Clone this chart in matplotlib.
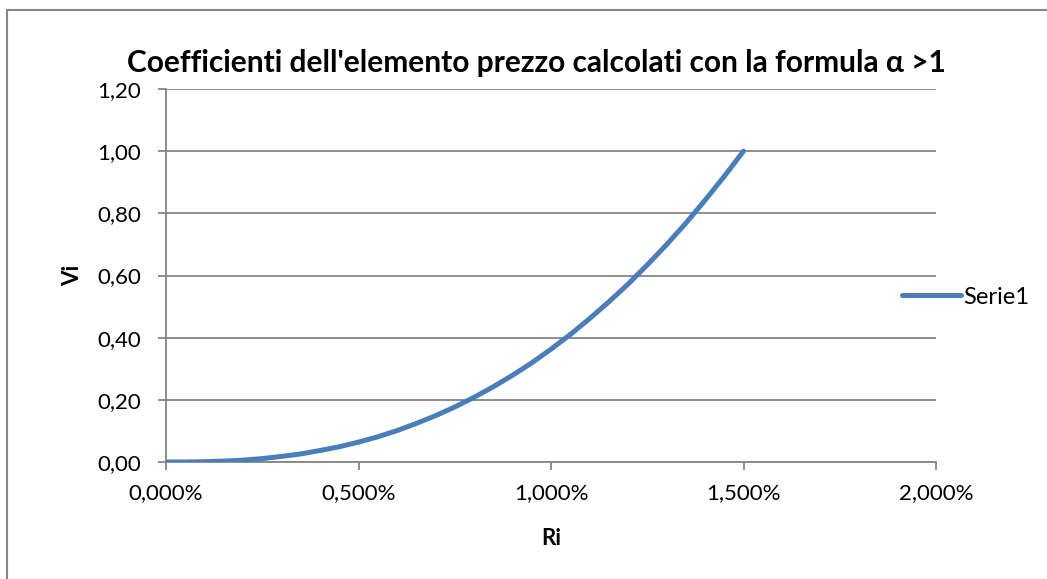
import matplotlib
matplotlib.use("Agg")
import matplotlib.pyplot as plt
from matplotlib.patches import Rectangle
from matplotlib.ticker import FuncFormatter

# dati (Ri in %, Vi)
ri = [0.00, 0.05, 0.10, 0.15, 0.20, 0.25, 0.30, 0.35, 0.40, 0.45, 0.50,
      0.55, 0.60, 0.65, 0.70, 0.75, 0.80, 0.85, 0.90, 0.95, 1.00,
      1.05, 1.10, 1.15, 1.20, 1.25, 1.30, 1.35, 1.40, 1.45, 1.50]
vi = [0.000, 0.000, 0.001, 0.003, 0.006, 0.011, 0.018, 0.026, 0.037, 0.049, 0.064,
      0.081, 0.101, 0.124, 0.149, 0.177, 0.208, 0.242, 0.279, 0.319, 0.363,
      0.410, 0.461, 0.515, 0.572, 0.634, 0.699, 0.768, 0.842, 0.919, 1.000]
x_ticks = [0.0, 0.5, 1.0, 1.5, 2.0]
y_ticks = [0.0, 0.2, 0.4, 0.6, 0.8, 1.0, 1.2]

title = "Coefficienti dell'elemento prezzo calcolati con la formula \u03b1 >1"
grid_col = "#868686"
line_col = "#4A7EBB"

plt.rcParams['font.family'] = ['Lato', 'DejaVu Sans']

fig = plt.figure(figsize=(10.47, 5.79), dpi=100)
ax = fig.add_axes([166 / 1047, 1 - 462 / 579, (936 - 166) / 1047, (462 - 89) / 579])

ax.plot(ri, vi, color=line_col, lw=3.6, solid_capstyle='round', label="Serie1", zorder=3)

ax.set_xlim(0, 2.0)
ax.set_ylim(0, 1.2)
ax.set_xticks(x_ticks)
ax.set_yticks(y_ticks)
ax.xaxis.set_major_formatter(FuncFormatter(lambda v, p: ("%.3f%%" % v).replace(".", ",")))
ax.yaxis.set_major_formatter(FuncFormatter(lambda v, p: ("%.2f" % v).replace(".", ",")))
ax.grid(axis='y', color=grid_col, lw=1.3)
ax.set_axisbelow(True)
for s in ['top', 'right']:
    ax.spines[s].set_visible(False)
for s in ['left', 'bottom']:
    ax.spines[s].set_color(grid_col)
    ax.spines[s].set_linewidth(1.3)
ax.tick_params(direction='out', length=6, width=1.3, color=grid_col, labelsize=16, pad=9)
ax.tick_params(axis='y', pad=12)

ax.set_xlabel("Ri", fontsize=16, fontweight='bold', labelpad=18)
ax.set_ylabel("Vi", fontsize=16, fontweight='bold', labelpad=10)
fig.text(536 / 1047, 1 - 63 / 579, title, ha='center', va='center', fontsize=21.5, fontweight='bold')

fig.legend(loc='center left', bbox_to_anchor=(902 / 1047, 1 - 297 / 579), frameon=False,
           fontsize=17, handlelength=2.5, handletextpad=0.1, borderpad=0, borderaxespad=0)

# bordo del grafico (solo sinistra e sopra visibili)
fig.patches.append(Rectangle((7 / 1047, -0.05), 1.1, 1.05 - 10 / 579,
                             transform=fig.transFigure, fill=False, edgecolor=grid_col, lw=1.5))

fig.savefig("out.png", dpi=100)
